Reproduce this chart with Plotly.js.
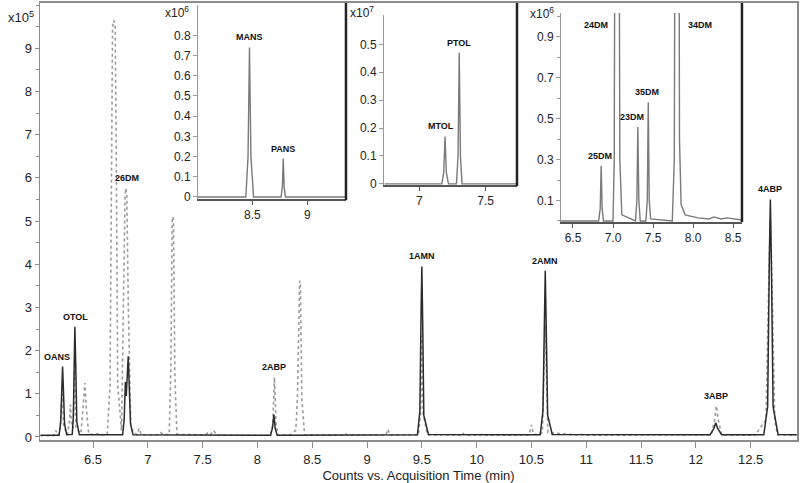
<!DOCTYPE html>
<html>
<head>
<meta charset="utf-8">
<script src="https://cdn.plot.ly/plotly-3.0.1.min.js"></script>
<style>
  body { margin: 0; background: #fff; }
  #chart { width: 800px; height: 483px; }
</style>
</head>
<body>
<div id="chart"></div>
<script>
// main chromatogram, counts x10^5 (solid = sample, dotted = reference)
const ticTime = [6.02, 6.19, 6.205, 6.215, 6.222, 6.229, 6.24, 6.26, 6.31, 6.32, 6.328, 6.334, 6.341, 6.352, 6.375,
    6.77, 6.784, 6.795, 6.803, 6.812, 6.821, 6.83, 6.842, 6.865, 8.12, 8.138, 8.15, 8.162, 8.18,
    9.46, 9.482, 9.493, 9.5, 9.507, 9.518, 9.56, 10.58, 10.605, 10.618, 10.626, 10.634, 10.648, 10.69,
    12.13, 12.165, 12.182, 12.199, 12.235, 12.62, 12.655, 12.671, 12.68, 12.689, 12.705, 12.75, 12.92];
const ticCounts = [0.04, 0.04, 0.35, 1.2, 1.63, 1.15, 0.3, 0.05, 0.06, 0.45, 1.9, 2.55, 1.8, 0.35, 0.05,
    0.05, 0.4, 1.27, 0.95, 1.5, 1.87, 1.2, 0.3, 0.05, 0.04, 0.22, 0.52, 0.2, 0.04,
    0.05, 0.6, 2.9, 3.95, 2.8, 0.5, 0.06, 0.05, 0.6, 2.8, 3.85, 2.7, 0.5, 0.06,
    0.05, 0.2, 0.33, 0.2, 0.05, 0.05, 0.7, 4.2, 5.5, 4.1, 0.7, 0.06, 0.05];

const refTime = [6.02, 6.14, 6.16, 6.18, 6.2, 6.218, 6.232, 6.265, 6.284, 6.293, 6.302, 6.318, 6.331, 6.344,
    6.39, 6.412, 6.425, 6.438, 6.46, 6.52, 6.54, 6.56, 6.63, 6.655, 6.668, 6.678, 6.69, 6.702, 6.712, 6.725,
    6.76, 6.778, 6.792, 6.8, 6.808, 6.822, 6.845, 6.9, 6.92, 6.94, 7.1, 7.12, 7.14,
    7.195, 7.21, 7.222, 7.228, 7.234, 7.246, 7.265,
    7.52, 7.55, 7.57, 7.6, 7.63, 8.12, 8.14, 8.155, 8.17, 8.19, 8.3, 8.33, 8.35,
    8.365, 8.378, 8.385, 8.392, 8.405, 8.43,
    8.78, 8.8, 8.82, 9.17, 9.19, 9.21, 9.47, 9.49, 9.5, 9.512, 9.55, 9.85, 9.87, 9.89,
    10.03, 10.05, 10.07, 10.15, 10.17, 10.19, 10.31, 10.33, 10.35, 10.48, 10.5, 10.52,
    10.6, 10.625, 10.65, 10.94, 10.96, 10.98, 12.14, 12.172, 12.188, 12.204, 12.235,
    12.5, 12.52, 12.54, 12.64, 12.667, 12.68, 12.693, 12.72, 12.745, 12.92];
const refCounts = [0.03, 0.03, 0.15, 0.03, 0.2, 1.0, 0.25, 0.05, 0.35, 0.75, 0.35, 0.2, 1.55, 0.2,
    0.08, 0.75, 1.25, 0.7, 0.08, 0.04, 0.08, 0.04, 0.06, 1.2, 6.5, 9.5, 9.65, 9.5, 6.5, 1.2,
    0.15, 3.2, 5.6, 5.76, 5.6, 3.0, 0.2, 0.05, 0.2, 0.05, 0.05, 0.1, 0.05,
    0.06, 1.6, 5.0, 5.1, 5.0, 1.5, 0.06,
    0.05, 0.1, 0.05, 0.15, 0.04, 0.04, 0.3, 1.38, 0.3, 0.04, 0.05, 0.12, 0.15,
    0.9, 3.5, 3.62, 3.5, 0.9, 0.05,
    0.04, 0.08, 0.04, 0.04, 0.18, 0.04, 0.05, 0.6, 2.35, 0.55, 0.05, 0.04, 0.1, 0.04,
    0.04, 0.07, 0.04, 0.04, 0.06, 0.04, 0.04, 0.07, 0.04, 0.05, 0.28, 0.05,
    0.1, 2.6, 0.1, 0.04, 0.06, 0.04, 0.05, 0.4, 0.72, 0.4, 0.05,
    0.04, 0.08, 0.04, 0.4, 3.8, 5.05, 3.8, 0.4, 0.05, 0.04];

const mainLabels = ['OANS', 'OTOL', '26DM', '2ABP', '1AMN', '2AMN', '3ABP', '4ABP'];
const mainLabelTime = [6.205, 6.34, 6.81, 8.155, 9.5, 10.626, 12.188, 12.68];
const mainLabelCounts = [1.63, 2.55, 5.76, 1.38, 3.95, 3.85, 0.72, 5.5];
const mainYTicks = [0, 1, 2, 3, 4, 5, 6, 7, 8, 9];

// inset 1: anisidines, x10^6
const ansTime = [8.0, 8.44, 8.46, 8.473, 8.486, 8.51, 8.76, 8.772, 8.78, 8.788, 8.8, 9.35];
const ansCounts = [0, 0, 0.2, 0.74, 0.2, 0, 0, 0.05, 0.19, 0.05, 0, 0];
const ansLabels = ['MANS', 'PANS'];
const ansLabelTime = [8.473, 8.78];
const ansLabelCounts = [0.74, 0.19];
const ansYTicks = [0, 0.1, 0.2, 0.3, 0.4, 0.5, 0.6, 0.7, 0.8];

// inset 2: toluidines, x10^7
const tolTime = [6.74, 7.17, 7.184, 7.194, 7.204, 7.22, 7.28, 7.292, 7.301, 7.31, 7.322, 7.736];
const tolCounts = [0, 0, 0.04, 0.17, 0.04, 0, 0, 0.1, 0.47, 0.1, 0, 0];
const tolLabels = ['MTOL', 'PTOL'];
const tolLabelTime = [7.194, 7.301];
const tolLabelCounts = [0.17, 0.47];
const tolYTicks = [0, 0.1, 0.2, 0.3, 0.4, 0.5];

// inset 3: dimethylanilines, x10^6
const dmTime = [6.35, 6.82, 6.84, 6.852, 6.864, 6.88, 7.0, 7.015, 7.033, 7.067, 7.085, 7.11,
    7.28, 7.298, 7.31, 7.322, 7.34, 7.41, 7.428, 7.44, 7.452, 7.47,
    7.74, 7.765, 7.783, 7.817, 7.83, 7.85, 7.9, 8.0, 8.06, 8.2, 8.26, 8.35, 8.42, 8.61];
const dmCounts = [0, 0, 0.06, 0.27, 0.06, 0, 0, 0.3, 3.0, 3.0, 0.3, 0.03,
    0, 0.1, 0.46, 0.1, 0, 0, 0.1, 0.58, 0.1, 0.01,
    0, 0.3, 3.0, 3.0, 0.4, 0.08, 0.03, 0.02, 0.015, 0.01, 0.02, 0.01, 0.015, 0.005];
const dmLabels = ['25DM', '24DM', '23DM', '35DM', '34DM'];
const dmLabelTime = [6.852, 7.033, 7.31, 7.44, 7.817];
const dmLabelCounts = [0.27, 0.96, 0.46, 0.58, 0.96];
const dmYTicks = [0.1, 0.3, 0.5, 0.7, 0.9];

const fontFamily = 'Liberation Sans, Arial, sans-serif';
const axisGray = '#8c8c8c';
const insetGray = '#7a7a7a';

const traces = [
    { x: refTime, y: refCounts, xaxis: 'x', yaxis: 'y', type: 'scatter', mode: 'lines',
      line: { color: '#9a9a9a', width: 1.6, dash: 'dot' } },
    { x: ticTime, y: ticCounts, xaxis: 'x', yaxis: 'y', type: 'scatter', mode: 'lines',
      line: { color: '#2b2b2b', width: 1.5 } },
    { x: ansTime, y: ansCounts, xaxis: 'x2', yaxis: 'y2', type: 'scatter', mode: 'lines',
      line: { color: insetGray, width: 1.4 } },
    { x: tolTime, y: tolCounts, xaxis: 'x3', yaxis: 'y3', type: 'scatter', mode: 'lines',
      line: { color: insetGray, width: 1.4 } },
    { x: dmTime, y: dmCounts, xaxis: 'x4', yaxis: 'y4', type: 'scatter', mode: 'lines',
      line: { color: insetGray, width: 1.4 } }
];

function label(text, x, y, xref, yref, extra) {
    return Object.assign({
        text: '<b>' + text + '</b>', x: x, y: y, xref: xref, yref: yref,
        showarrow: false, yanchor: 'bottom', yshift: 3,
        font: { family: fontFamily, size: 9, color: '#111' }
    }, extra || {});
}

const annotations = [];
mainLabels.forEach((name, i) => {
    annotations.push(label(name, mainLabelTime[i], mainLabelCounts[i], 'x', 'y',
        name === 'OANS' ? { xshift: -4 } : {}));
});
ansLabels.forEach((name, i) => {
    annotations.push(label(name, ansLabelTime[i], ansLabelCounts[i], 'x2', 'y2'));
});
tolLabels.forEach((name, i) => {
    annotations.push(label(name, tolLabelTime[i], tolLabelCounts[i], 'x3', 'y3',
        name === 'MTOL' ? { xshift: -4 } : {}));
});
const dmOpts = {
    '25DM': { xshift: -1 },
    '24DM': { xanchor: 'right', yanchor: 'middle', xshift: -6, yshift: 0 },
    '23DM': { xshift: -6 },
    '35DM': { xshift: -1 },
    '34DM': { xanchor: 'left', yanchor: 'middle', xshift: 8, yshift: 0 }
};
dmLabels.forEach((name, i) => {
    annotations.push(label(name, dmLabelTime[i], dmLabelCounts[i], 'x4', 'y4', dmOpts[name]));
});

// exponent labels
const expFont = { family: fontFamily, size: 12, color: '#222' };
annotations.push({ text: 'x10<sup>5</sup>', xref: 'paper', yref: 'paper', x: 0, y: 1,
    xanchor: 'right', yanchor: 'middle', xshift: -4, yshift: -14, showarrow: false,
    font: { family: fontFamily, size: 13, color: '#222' } });
annotations.push({ text: 'x10<sup>6</sup>', xref: 'x2 domain', yref: 'y2 domain', x: 0, y: 1,
    xanchor: 'right', yanchor: 'middle', xshift: -7, yshift: -7, showarrow: false, font: expFont });
annotations.push({ text: 'x10<sup>7</sup>', xref: 'x3 domain', yref: 'y3 domain', x: 0, y: 1,
    xanchor: 'right', yanchor: 'middle', xshift: -8, yshift: 3, showarrow: false, font: expFont });
annotations.push({ text: 'x10<sup>6</sup>', xref: 'x4 domain', yref: 'y4 domain', x: 0, y: 1,
    xanchor: 'right', yanchor: 'middle', xshift: -5, yshift: 0, showarrow: false, font: expFont });

const insetX = {
    showgrid: false, zeroline: false, showline: true, linecolor: '#555', linewidth: 2,
    ticks: 'outside', ticklen: 4, tickcolor: '#555', tickfont: { size: 12, color: '#222' }
};
const insetY = {
    showgrid: false, zeroline: false, showline: true, linecolor: '#999', linewidth: 1,
    ticks: 'outside', ticklen: 4, tickcolor: '#999', tickfont: { size: 12, color: '#222' },
    tickmode: 'array'
};

const layout = {
    width: 800,
    height: 483,
    margin: { l: 40, r: 3, t: 3, b: 43 },
    paper_bgcolor: '#fff',
    plot_bgcolor: '#fff',
    showlegend: false,
    hovermode: false,
    font: { family: fontFamily, size: 13, color: '#222' },
    xaxis: {
        range: [6.016, 12.923], tick0: 6.5, dtick: 0.5,
        showgrid: false, zeroline: false, showline: true, mirror: true,
        linecolor: axisGray, linewidth: 2, ticks: 'outside', ticklen: 6, tickcolor: axisGray,
        tickfont: { size: 13, color: '#222' },
        title: { text: 'Counts vs. Acquisition Time (min)', font: { size: 13, color: '#222' }, standoff: 5 }
    },
    yaxis: {
        range: [-0.07, 10.05], tickmode: 'array', tickvals: mainYTicks,
        showgrid: false, zeroline: false, showline: true, mirror: true,
        linecolor: axisGray, linewidth: 1.5, ticks: 'outside', ticklen: 4, tickcolor: axisGray,
        minor: { dtick: 0.5, ticklen: 3, tickcolor: axisGray },
        tickfont: { size: 13, color: '#222' }
    },
    xaxis2: Object.assign({}, insetX, { domain: [0.2087, 0.4042], anchor: 'y2', range: [8.005, 9.35], dtick: 0.5 }),
    yaxis2: Object.assign({}, insetY, { domain: [0.5515, 0.9954], anchor: 'x2', range: [-0.01, 0.95], tickvals: ansYTicks }),
    xaxis3: Object.assign({}, insetX, { domain: [0.4544, 0.6301], anchor: 'y3', range: [6.734, 7.736], dtick: 0.5 }),
    yaxis3: Object.assign({}, insetY, { domain: [0.5835, 0.9725], anchor: 'x3', range: [-0.004, 0.605], tickvals: tolYTicks }),
    xaxis4: Object.assign({}, insetX, { domain: [0.6882, 0.9273], anchor: 'y4', range: [6.35, 8.61],
        tick0: 6.5, dtick: 0.5, tickformat: '.1f' }),
    yaxis4: Object.assign({}, insetY, { domain: [0.4989, 0.9771], anchor: 'x4', range: [-0.005, 1.017],
        tickvals: dmYTicks, minor: { dtick: 0.1, tick0: 0, ticklen: 3, tickcolor: '#999' } }),
    shapes: [
        { type: 'line', xref: 'paper', yref: 'paper', x0: 0.4042, x1: 0.4042, y0: 0.549, y1: 1,
          line: { color: '#222', width: 2.5 } },
        { type: 'line', xref: 'paper', yref: 'paper', x0: 0.6301, x1: 0.6301, y0: 0.581, y1: 1,
          line: { color: '#222', width: 2.5 } },
        { type: 'line', xref: 'paper', yref: 'paper', x0: 0.9273, x1: 0.9273, y0: 0.4989, y1: 1,
          line: { color: '#222', width: 2.5 } }
    ],
    annotations: annotations
};

Plotly.newPlot('chart', traces, layout, { displayModeBar: false, staticPlot: true });
</script>
</body>
</html>
